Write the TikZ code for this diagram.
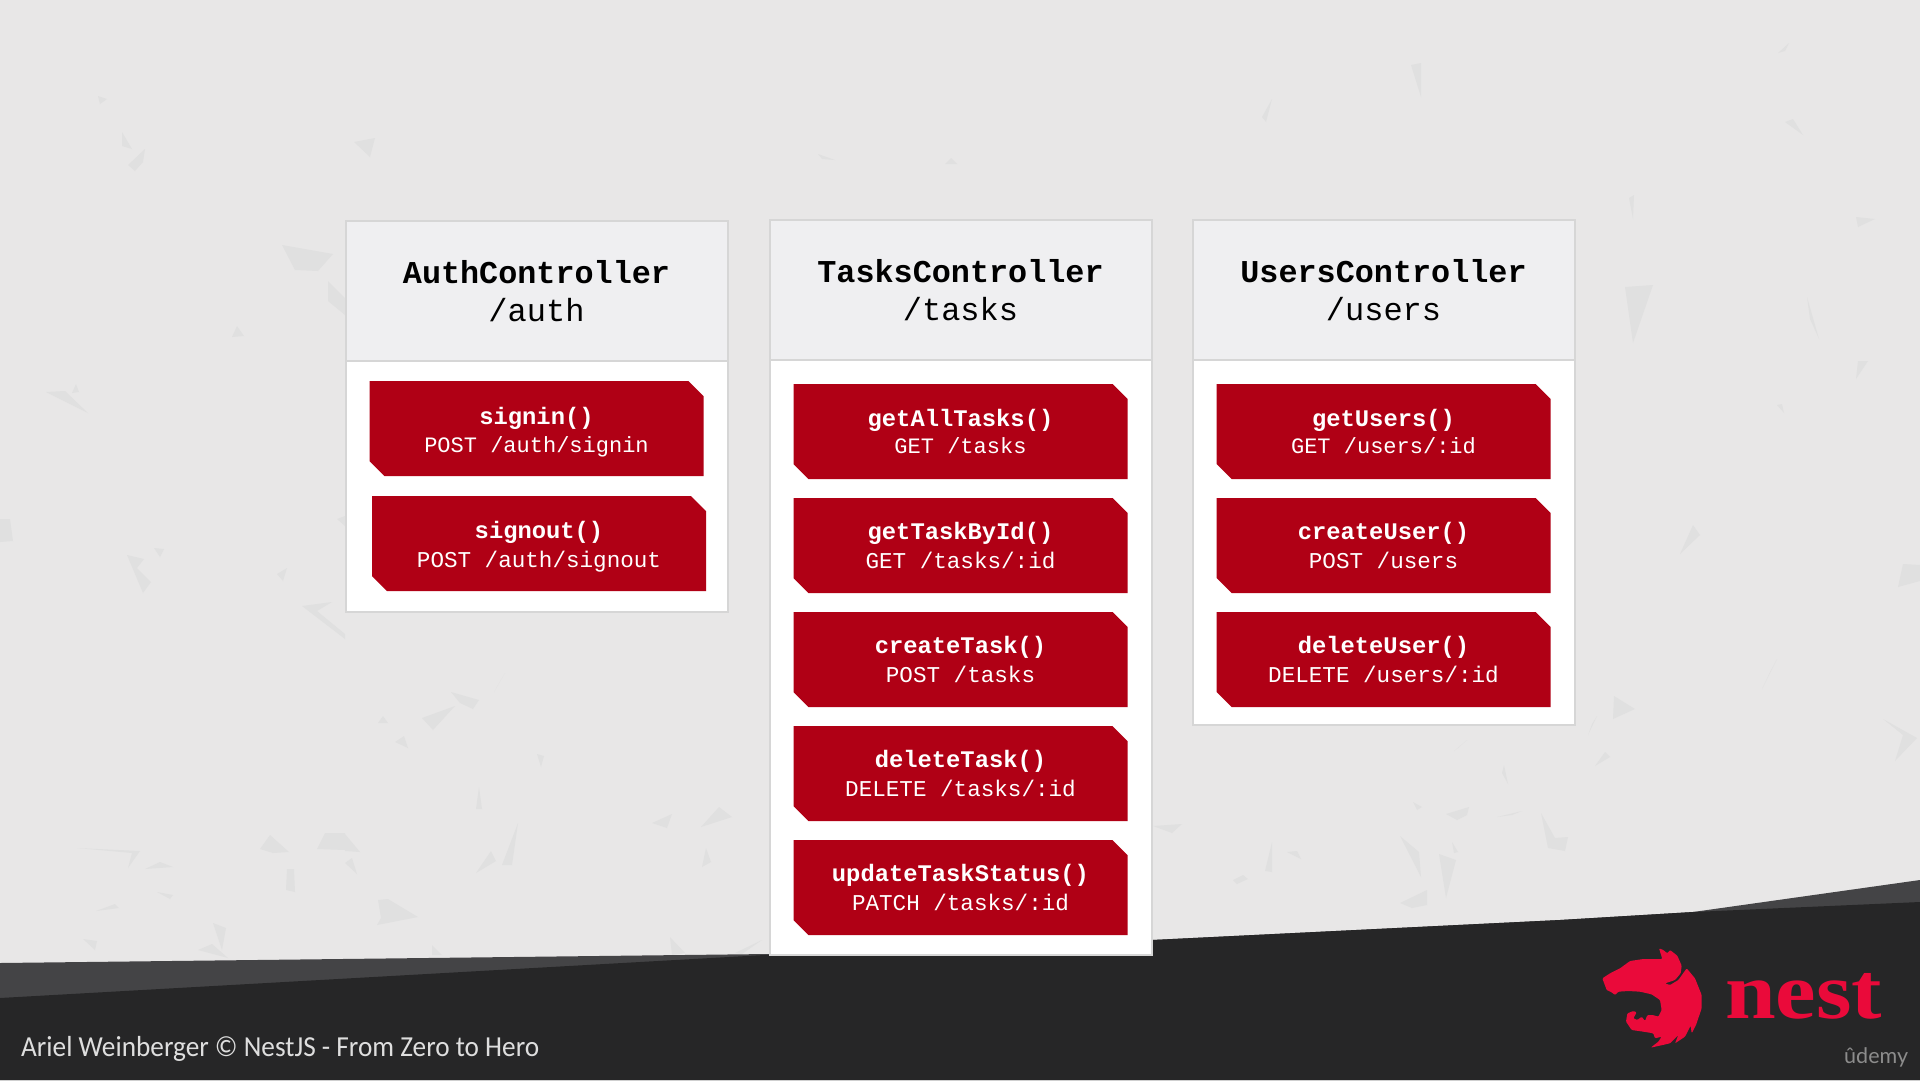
\documentclass[tikz,border=0pt]{standalone}
\usepackage{fontspec}
\setmainfont{Carlito}
\setmonofont{Liberation Mono}
\newfontfamily\creditfont[FakeStretch=0.94]{Carlito}
\newfontfamily\nestfont[FakeStretch=1.14]{Liberation Serif}
\newfontfamily\udemyfont{Lato}
\usetikzlibrary{shapes.misc,positioning}

\definecolor{paper}{HTML}{E8E7E7}
\definecolor{speckgray}{HTML}{E0E0E0}
\definecolor{bandlight}{HTML}{444446}
\definecolor{banddark}{HTML}{262627}
\definecolor{headgray}{HTML}{EFEFF1}
\definecolor{linegray}{HTML}{D6D6D6}
\definecolor{methodred}{HTML}{B00015}
\definecolor{nestred}{HTML}{EA0A3A}

\newcommand{\ctrl}[2]{{\fontsize{31.8}{38}\selectfont\bfseries #1}\\{\fontsize{32}{38}\selectfont #2}}
\newcommand{\mname}[1]{{\fontsize{23.8}{29}\selectfont\bfseries #1}}

\tikzset{
  speck/.style={fill=speckgray},
  ctrlhead/.style={draw=linegray, line width=2pt, fill=headgray, minimum width=382pt, minimum height=140pt,
    inner sep=0pt, outer sep=0pt, align=center, font=\ttfamily\fontsize{32}{38}\selectfont, text=black},
  ctrlbody/.style={draw=linegray, line width=2pt, fill=white, minimum width=382pt, inner sep=0pt, outer sep=0pt},
  method/.style={chamfered rectangle, chamfered rectangle corners={north east,south west},
    chamfered rectangle xsep=7.5pt, chamfered rectangle ysep=7.5pt, fill=methodred, minimum width=334pt,
    minimum height=95pt, inner sep=0pt, outer sep=0pt, align=center, text=white,
    font=\ttfamily\fontsize{22.6}{29}\selectfont}
}

\begin{document}
\begin{tikzpicture}[x=1pt, y=-1pt]
\useasboundingbox (0,0) rectangle (1920,1080);
\fill[paper] (0,0) rectangle (1920,1080);

% background specks
\fill[speck] (98,96) -- (107,99) -- (100,104) -- cycle;
\fill[speck] (122,132) -- (132,149) -- (122,146) -- cycle;
\fill[speck] (145,149) -- (143,162) -- (135,171) -- (128,165) -- cycle;
\fill[speck] (282,245) -- (333,254) -- (318,271) -- (295,270) -- cycle;
\fill[speck] (328,281) -- (345,298) -- (345,315) -- (328,301) -- cycle;
\fill[speck] (237,326) -- (244,336) -- (232,337) -- cycle;
\fill[speck] (46,392) -- (65,391) -- (88,413) -- cycle;
\fill[speck] (76,384) -- (79,392) -- (72,393) -- cycle;
\fill[speck] (0,519) -- (10,519) -- (13,541) -- (0,542) -- cycle;
\fill[speck] (127,555) -- (144,559) -- (137,568) -- (151,582) -- (143,593) -- cycle;
\fill[speck] (154,548) -- (164,549) -- (160,557) -- cycle;
\fill[speck] (277,574) -- (287,568) -- (283,581) -- cycle;
\fill[speck] (302,606) -- (332,602) -- (317,611) -- (345,634) -- (345,639) -- cycle;
\fill[speck] (337,519) -- (345,516) -- (345,526) -- cycle;
\fill[speck] (260,849) -- (270,835) -- (289,852) -- (273,853) -- cycle;
\fill[speck] (317,849) -- (325,833) -- (345,833) -- (345,850) -- cycle;
\fill[speck] (287,869) -- (294,869) -- (295,892) -- (286,890) -- cycle;
\fill[speck] (77,848) -- (140,851) -- (128,868) -- (132,853) -- cycle;
\fill[speck] (145,869) -- (160,862) -- (173,867) -- cycle;
\fill[speck] (157,892) -- (173,895) -- (170,899) -- cycle;
\fill[speck] (96,911) -- (115,904) -- (119,908) -- cycle;
\fill[speck] (83,939) -- (97,941) -- (95,950) -- cycle;
\fill[speck] (213,923) -- (226,928) -- (222,950) -- cycle;
\fill[speck] (198,950) -- (212,944) -- (228,958) -- cycle;
\fill[speck] (1625,287) -- (1653,285) -- (1633,343) -- cycle;
\fill[speck] (1629,198) -- (1634,195) -- (1633,219) -- cycle;
\fill[speck] (1778,53) -- (1789,43) -- (1785,51) -- cycle;
\fill[speck] (1785,122) -- (1793,119) -- (1803,135) -- cycle;
\fill[speck] (1856,217) -- (1875,219) -- (1858,227) -- cycle;
\fill[speck] (1807,297) -- (1819,339) -- (1810,319) -- cycle;
\fill[speck] (1858,361) -- (1868,361) -- (1856,379) -- cycle;
\fill[speck] (1777,405) -- (1782,404) -- (1784,413) -- cycle;
\fill[speck] (1680,554) -- (1693,525) -- (1700,535) -- cycle;
\fill[speck] (1903,564) -- (1920,565) -- (1920,581) -- (1898,587) -- cycle;
\fill[speck] (1762,689) -- (1777,659) -- (1770,672) -- cycle;
\fill[speck] (1614,696) -- (1635,709) -- (1613,719) -- cycle;
\fill[speck] (1588,735) -- (1597,716) -- (1592,724) -- cycle;
\fill[speck] (1595,766) -- (1605,752) -- (1610,757) -- cycle;
\fill[speck] (1883,719) -- (1917,738) -- (1895,761) -- (1903,735) -- cycle;
\fill[speck] (422,718) -- (455,706) -- (433,730) -- cycle;
\fill[speck] (451,692) -- (479,700) -- (473,709) -- (460,703) -- cycle;
\fill[speck] (494,692) -- (505,673) -- (498,685) -- cycle;
\fill[speck] (378,723) -- (383,716) -- (388,723) -- cycle;
\fill[speck] (395,742) -- (404,736) -- (408,748) -- cycle;
\fill[speck] (537,754) -- (544,756) -- (541,767) -- cycle;
\fill[speck] (476,809) -- (479,787) -- (482,809) -- cycle;
\fill[speck] (345,834) -- (360,852) -- (345,851) -- cycle;
\fill[speck] (345,863) -- (352,858) -- (357,874) -- cycle;
\fill[speck] (476,873) -- (491,851) -- (496,861) -- cycle;
\fill[speck] (502,865) -- (518,823) -- (512,865) -- cycle;
\fill[speck] (378,900) -- (388,899) -- (418,917) -- (377,925) -- (381,918) -- cycle;
\fill[speck] (652,823) -- (672,814) -- (667,828) -- cycle;
\fill[speck] (701,827) -- (719,807) -- (732,817) -- cycle;
\fill[speck] (702,867) -- (706,848) -- (711,862) -- cycle;
\fill[speck] (670,937) -- (685,953) -- (672,955) -- cycle;
\fill[speck] (735,953) -- (762,940) -- (742,954) -- cycle;
\fill[speck] (432,945) -- (442,955) -- (432,955) -- cycle;
\fill[speck] (1153,826) -- (1182,824) -- (1172,833) -- cycle;
\fill[speck] (1265,871) -- (1272,842) -- (1272,872) -- cycle;
\fill[speck] (1287,852) -- (1297,851) -- (1301,859) -- cycle;
\fill[speck] (1233,880) -- (1243,875) -- (1248,879) -- (1237,884) -- cycle;
\fill[speck] (1400,836) -- (1419,852) -- (1421,877) -- cycle;
\fill[speck] (1439,854) -- (1456,860) -- (1446,898) -- cycle;
\fill[speck] (1400,903) -- (1427,890) -- (1427,905) -- (1412,908) -- cycle;
\fill[speck] (1446,814) -- (1469,807) -- (1467,815) -- (1457,820) -- cycle;
\fill[speck] (1452,842) -- (1458,852) -- (1454,853) -- cycle;
\fill[speck] (1541,813) -- (1555,838) -- (1568,837) -- (1565,851) -- (1548,848) -- cycle;
\fill[speck] (1454,751) -- (1467,740) -- (1458,748) -- cycle;
\fill[speck] (1502,773) -- (1504,765) -- (1508,784) -- cycle;
\fill[speck] (1497,817) -- (1522,811) -- (1512,815) -- cycle;
\fill[speck] (1413,802) -- (1422,807) -- (1417,810) -- cycle;
\fill[speck] (354,142) -- (375,138) -- (370,157) -- cycle;
\fill[speck] (1411,65) -- (1421,63) -- (1421,97) -- cycle;
\fill[speck] (1262,117) -- (1272,99) -- (1266,122) -- cycle;
\fill[speck] (945,164) -- (951,158) -- (957,164) -- cycle;
\fill[speck] (818,154) -- (835,160) -- (822,159) -- cycle;

% footer bands
\fill[bandlight] (0,963) -- (769,954) -- (1152,940) -- (1560,920) -- (1693,912) -- (1920,880) -- (1920,1080) -- (0,1080) -- cycle;
\fill[banddark] (0,998) -- (800,953) -- (1152,940) -- (1560,920) -- (1693,912) -- (1920,902) -- (1920,1080) -- (0,1080) -- cycle;

% AuthController
\node[ctrlhead] (authhead) at (536.5,291) {\ctrl{AuthController}{/auth}};
\node[ctrlbody, minimum height=250.5pt, below=0pt of authhead] (authbody) {};
\node[method, font=\ttfamily\fontsize{22}{29}\selectfont, below=20pt of authhead] (signin) {\rule{0pt}{25pt}\mname{signin()}\\[-1.2pt]POST /auth/signin};
\node[method, below=20pt of signin, xshift=2.5pt] (signout) {\rule{0pt}{23pt}\mname{signout()}\\POST /auth/signout};

% TasksController
\node[ctrlhead] (taskshead) at (960.5,290) {\ctrl{TasksController}{/tasks}};
\node[ctrlbody, minimum height=595pt, below=0pt of taskshead] (tasksbody) {};
\node[method, font=\ttfamily\fontsize{22}{29}\selectfont, below=24pt of taskshead] (getalltasks) {\mname{getAllTasks()}\\[-2.4pt]GET /tasks};
\node[method, below=19pt of getalltasks] (gettaskbyid) {\mname{getTaskById()}\\GET /tasks/:id};
\node[method, below=19pt of gettaskbyid] (createtask) {\mname{createTask()}\\POST /tasks};
\node[method, below=19pt of createtask] (deletetask) {\mname{deleteTask()}\\DELETE /tasks/:id};
\node[method, below=19pt of deletetask] (updatetask) {\mname{updateTaskStatus()}\\PATCH /tasks/:id};

% UsersController
\node[ctrlhead] (usershead) at (1383.5,290) {\ctrl{UsersController}{/users}};
\node[ctrlbody, minimum height=365pt, below=0pt of usershead] (usersbody) {};
\node[method, font=\ttfamily\fontsize{22}{29}\selectfont, below=24pt of usershead] (getusers) {\mname{getUsers()}\\[-2.4pt]GET /users/:id};
\node[method, below=19pt of getusers] (createuser) {\mname{createUser()}\\POST /users};
\node[method, below=19pt of createuser] (deleteuser) {\mname{deleteUser()}\\DELETE /users/:id};

% footer texts
\node[anchor=base west, inner sep=0pt, text=white!87!black, font=\creditfont\fontsize{29}{34}\selectfont] (credit) at (21,1056) {Ariel Weinberger © NestJS - From Zero to Hero};
\node[anchor=base west, inner sep=0pt, text=nestred, font=\nestfont\bfseries\fontsize{80}{90}\selectfont] (nestword) at (1725,1018) {nest};
\node[anchor=base west, inner sep=0pt, text=white!55!black, font=\udemyfont\fontsize{21.5}{26}\selectfont] (udemy) at (1844,1063) {ûdemy};

% nest logo
\begin{scope}[shift={(1590,935)}, scale=1/3]
\fill[nestred, rounded corners=1pt] (37,130) -- (60,115) -- (90,100) -- (120,78) -- (160,72) -- (217,72) -- (207,40) -- (220,45) -- (232,55) -- (240,45) -- (262,62) -- (275,92) -- (272,115) -- (255,135) -- (225,145) -- (240,150) -- (265,135) -- (290,100) -- (315,130) -- (335,180) -- (335,220) -- (318,270) -- (305,295) -- (302,272) -- (285,305) -- (255,325) -- (265,300) -- (240,325) -- (182,338) -- (205,320) -- (215,305) -- (195,310) -- (190,295) -- (160,290) -- (125,285) -- (108,260) -- (112,235) -- (130,228) -- (140,232) -- (130,250) -- (142,255) -- (155,245) -- (165,258) -- (172,240) -- (188,240) -- (205,245) -- (215,225) -- (210,195) -- (185,178) -- (150,170) -- (115,168) -- (85,170) -- (75,180) -- (65,172) -- (50,165) -- cycle;
\end{scope}
\end{tikzpicture}
\end{document}
